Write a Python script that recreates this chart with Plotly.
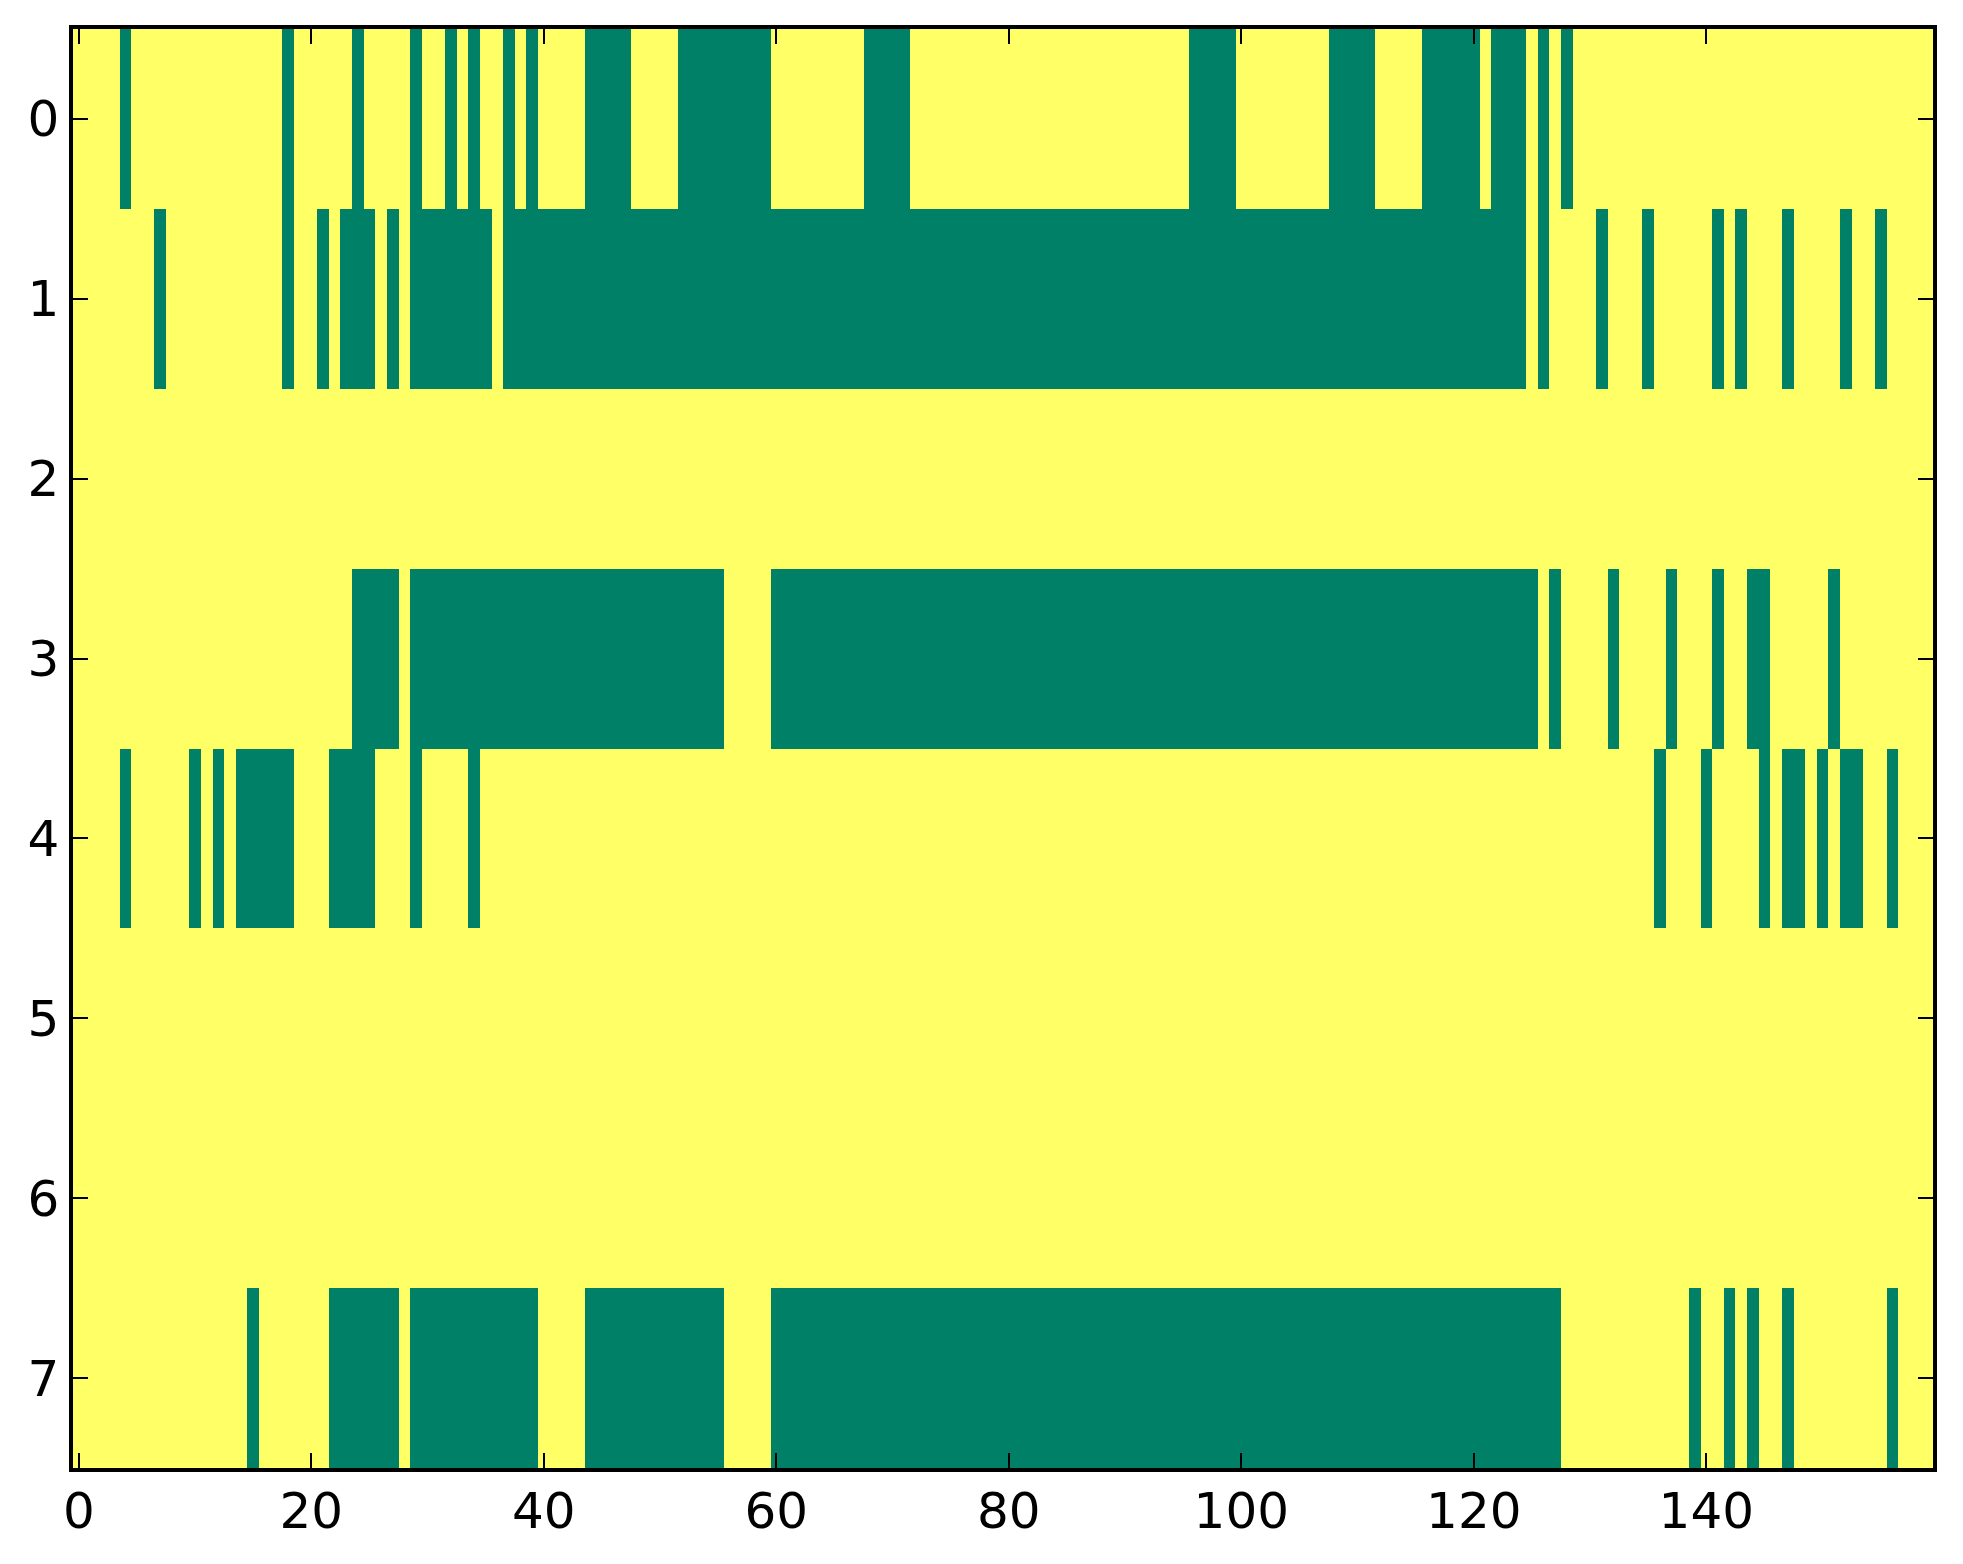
import plotly.graph_objects as go

# binary 8 x 160 grid; 1 = yellow, 0 = green ("summer" colormap)
n_cols = 160
n_rows = 8

# green runs per row, as (first column, last column)
row0_green = [(4, 4), (18, 18), (24, 24), (29, 29), (32, 32), (34, 34), (37, 37), (39, 39),
              (44, 47), (52, 59), (68, 71), (96, 99), (108, 111), (116, 120), (122, 124),
              (126, 126), (128, 128)]
row1_green = [(7, 7), (18, 18), (21, 21), (23, 25), (27, 27), (29, 35), (37, 124), (126, 126),
              (131, 131), (135, 135), (141, 141), (143, 143), (147, 147), (152, 152), (155, 155)]
row2_green = []
row3_green = [(24, 27), (29, 55), (60, 125), (127, 127), (132, 132), (137, 137), (141, 141),
              (144, 145), (151, 151)]
row4_green = [(4, 4), (10, 10), (12, 12), (14, 18), (22, 25), (29, 29), (34, 34), (136, 136),
              (140, 140), (145, 145), (147, 148), (150, 150), (152, 153), (156, 156)]
row5_green = []
row6_green = []
row7_green = [(15, 15), (22, 27), (29, 39), (44, 55), (60, 127), (139, 139), (142, 142),
              (144, 144), (147, 147), (156, 156)]

x_ticks = [0, 20, 40, 60, 80, 100, 120, 140]
y_ticks = [0, 1, 2, 3, 4, 5, 6, 7]

all_rows = [row0_green, row1_green, row2_green, row3_green,
            row4_green, row5_green, row6_green, row7_green]

z = []
for runs in all_rows:
    row = [1] * n_cols
    for a, b in runs:
        for c in range(a, b + 1):
            row[c] = 0
    z.append(row)

fig = go.Figure(go.Heatmap(
    z=z,
    x=list(range(n_cols)),
    y=list(range(n_rows)),
    colorscale=[[0, '#008066'], [1, '#FFFF66']],
    zmin=0, zmax=1,
    showscale=False,
    hoverinfo='skip'
))

axis_style = dict(
    showline=True, linecolor='black', linewidth=3.5, mirror='ticks',
    ticks='inside', ticklen=15, tickwidth=2, tickcolor='black',
    showgrid=False, zeroline=False,
    tickfont=dict(family='DejaVu Sans', size=50, color='black'),
)

# page body adds an 8px offset, so margins are shifted to compensate
fig.update_layout(
    width=1963, height=1564,
    margin=dict(l=65, r=38, t=21, b=104),
    plot_bgcolor='white', paper_bgcolor='white',
    xaxis=dict(range=[-0.5, n_cols - 0.5], tickvals=x_ticks, ticklabelstandoff=-4, **axis_style),
    yaxis=dict(range=[n_rows - 0.5, -0.5], tickvals=y_ticks, ticklabelstandoff=0, **axis_style),
)

fig.write_html("out.html")
